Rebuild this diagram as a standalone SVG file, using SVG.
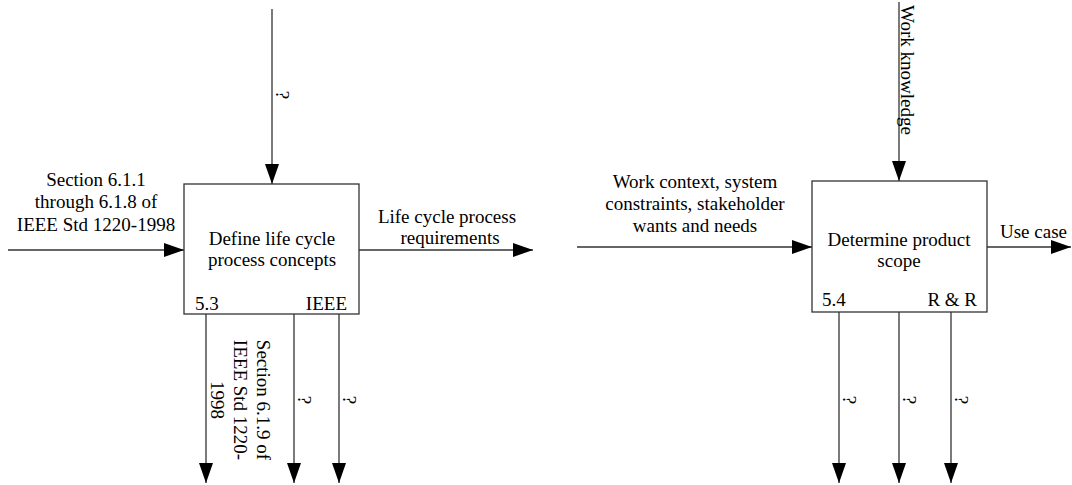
<svg xmlns="http://www.w3.org/2000/svg" width="1072" height="485" viewBox="0 0 1072 485">
  <style>
    .box { fill: #ffffff; stroke: #333333; stroke-width: 1.3; }
    .flow { fill: none; stroke: #333333; stroke-width: 1.3; marker-end: url(#arrow); }
    text { font-family: "Liberation Serif", "Times New Roman", serif; font-size: 19px; fill: #000000; }
    .mid { text-anchor: middle; }
    .end { text-anchor: end; }
  </style>
  <defs>
    <marker id="arrow" markerUnits="userSpaceOnUse" markerWidth="20" markerHeight="14" refX="20" refY="7" orient="auto">
      <path d="M0,0 L20,7 L0,14 Z" fill="#000000"/>
    </marker>
  </defs>
  <rect width="1072" height="485" fill="#ffffff"/>

  <!-- connectors -->
  <g id="connectors">
    <!-- activity 5.3 -->
    <line class="flow" x1="272" y1="9" x2="272" y2="184"/>
    <line class="flow" x1="8" y1="250" x2="184" y2="250"/>
    <line class="flow" x1="359" y1="250" x2="533" y2="250"/>
    <line class="flow" x1="206" y1="314" x2="206" y2="483"/>
    <line class="flow" x1="294" y1="314" x2="294" y2="483"/>
    <line class="flow" x1="339" y1="314" x2="339" y2="483"/>
    <!-- activity 5.4 -->
    <line class="flow" x1="899" y1="2" x2="899" y2="181"/>
    <line class="flow" x1="577" y1="247" x2="812" y2="247"/>
    <line class="flow" x1="987" y1="247" x2="1071" y2="247"/>
    <line class="flow" x1="839" y1="312" x2="839" y2="483"/>
    <line class="flow" x1="899" y1="312" x2="899" y2="483"/>
    <line class="flow" x1="951" y1="312" x2="951" y2="483"/>

    <!-- connector labels -->
    <text transform="translate(276,95) rotate(90)" class="mid">?</text>
    <text class="mid" x="96" y="186">Section 6.1.1</text>
    <text class="mid" x="96" y="208">through 6.1.8 of</text>
    <text class="mid" x="96" y="231">IEEE Std 1220-1998</text>
    <text class="mid" x="447" y="223">Life cycle process</text>
    <text class="mid" x="450" y="244">requirements</text>
    <text transform="translate(257,400) rotate(90)" class="mid">Section 6.1.9 of</text>
    <text transform="translate(234,400) rotate(90)" class="mid">IEEE Std 1220-</text>
    <text transform="translate(211,400) rotate(90)" class="mid">1998</text>
    <text transform="translate(298,400) rotate(90)" class="mid">?</text>
    <text transform="translate(343,400) rotate(90)" class="mid">?</text>

    <text transform="translate(901,70) rotate(90)" class="mid">Work knowledge</text>
    <text class="mid" x="695" y="188">Work context, system</text>
    <text class="mid" x="695" y="210">constraints, stakeholder</text>
    <text class="mid" x="695" y="232">wants and needs</text>
    <text x="1000" y="238">Use case</text>
    <text transform="translate(843,400) rotate(90)" class="mid">?</text>
    <text transform="translate(903,400) rotate(90)" class="mid">?</text>
    <text transform="translate(955,400) rotate(90)" class="mid">?</text>
  </g>

  <!-- activity box 5.3 -->
  <g id="node-define-life-cycle">
    <rect class="box" x="184" y="184" width="175" height="130"/>
    <text class="mid" x="272" y="245">Define life cycle</text>
    <text class="mid" x="272" y="266">process concepts</text>
    <text x="195" y="310">5.3</text>
    <text class="end" x="347" y="310">IEEE</text>
  </g>

  <!-- activity box 5.4 -->
  <g id="node-determine-scope">
    <rect class="box" x="812" y="181" width="175" height="131"/>
    <text class="mid" x="899" y="246">Determine product</text>
    <text class="mid" x="899" y="267">scope</text>
    <text x="822" y="306">5.4</text>
    <text class="end" x="977" y="306">R &amp; R</text>
  </g>
</svg>
